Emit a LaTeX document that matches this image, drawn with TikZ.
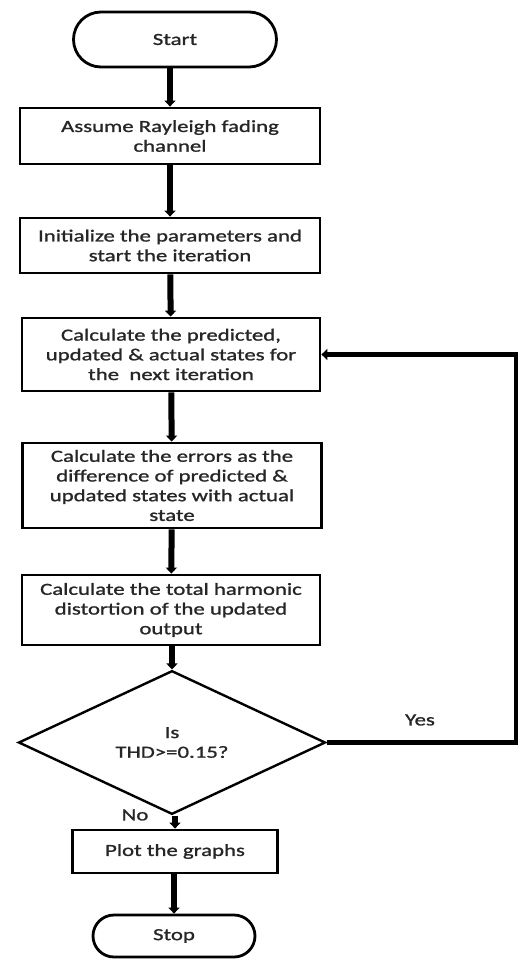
\documentclass[tikz,border=0pt]{standalone}
\usepackage{fontspec}
\setmainfont{Carlito}[FakeStretch=1.34,FakeBold=1.2]
\usetikzlibrary{shapes.misc,shapes.geometric,arrows.meta}
\begin{document}
\begin{tikzpicture}[x=1pt,y=-1pt,
  txt/.style={font=\fontsize{17}{19.7}\selectfont,text=black!85},
  box/.style={txt,draw,line width=2.8pt,rectangle,align=center,inner sep=0pt},
  term/.style={txt,draw,line width=2.8pt,rounded rectangle,inner sep=0pt},
  dec/.style={txt,draw,line width=2.4pt,diamond,align=center,inner sep=0pt},
  flow/.style={line width=6pt,-{Triangle[width=11pt,length=6pt]}},
  lbl/.style={txt}]
\useasboundingbox (0,0) rectangle (520,960);
\node[term,minimum width=203pt,minimum height=55pt] (start) at (175,39.5) {Start};
\node[box,minimum width=300pt,minimum height=56pt] (b1) at (170,136) {Assume Rayleigh fading\\channel};
\node[box,minimum width=300pt,minimum height=55pt] (b2) at (170,245.5) {Initialize the parameters and\\start the iteration};
\node[box,minimum width=298pt,minimum height=73pt] (b3) at (171,354.5) {Calculate the predicted,\\updated \& actual states for\\the\ \ next iteration};
\node[box,minimum width=299pt,minimum height=85pt] (b4) at (172,485.5) {Calculate the errors as the\\difference of predicted \&\\updated states with actual\\state};
\node[box,minimum width=298pt,minimum height=70pt] (b5) at (171,610) {Calculate the total harmonic\\distortion of the updated\\output};
\node[dec,minimum width=307pt,minimum height=101pt] (d) at (172,742.5) {Is\\THD>=0.15?};
\node[box,minimum width=205pt,minimum height=43pt] (plot) at (175,851.5) {Plot the graphs};
\node[term,minimum width=162pt,minimum height=42pt] (stop) at (174,936) {Stop};
\coordinate (rc) at (516,742.5);
\draw[flow] (start.south -| b1.north) -- (b1.north);
\draw[flow] (b1) -- (b2);
\draw[flow] (b2) -- (b3);
\draw[flow] (b3) -- (b4);
\draw[flow] (b4) -- (b5);
\draw[flow] (b5.south -| d.north) -- (d.north);
\draw[flow] (d.south -| plot.north) -- (plot.north);
\draw[flow] (plot.south -| stop.north) -- (stop.north);
\draw[line width=4.5pt,-{Triangle[width=11pt,length=6pt]}] (d.east) -- (rc) |- (b3.east);
\node[lbl] (yes) at (420,720) {Yes};
\node[lbl] (no) at (135,815) {No};
\end{tikzpicture}
\end{document}
